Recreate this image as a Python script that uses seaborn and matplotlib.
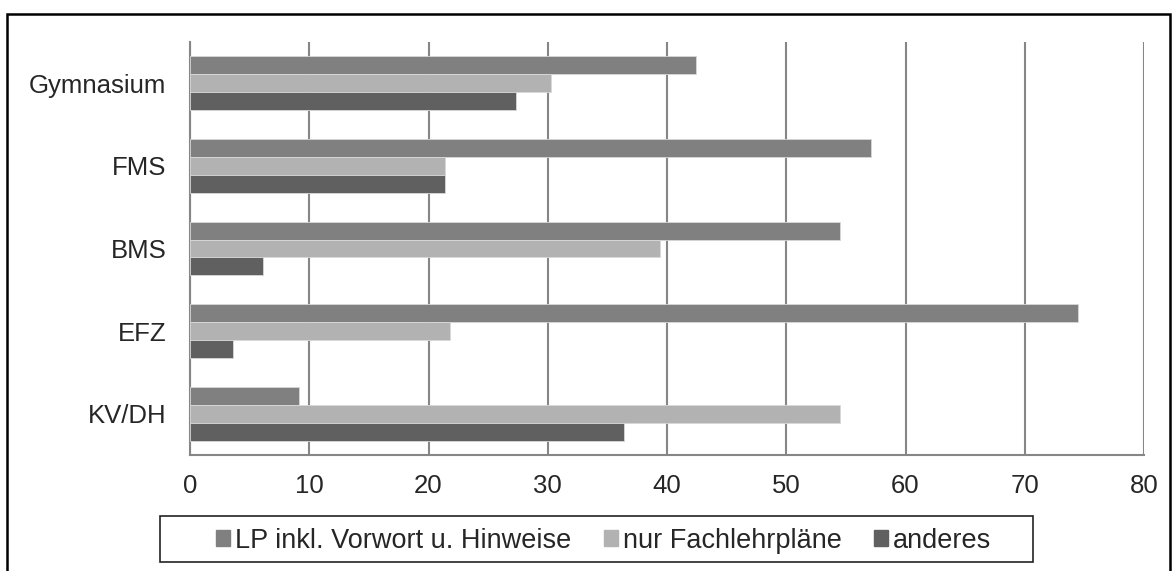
import pandas as pd
import matplotlib.pyplot as plt
import seaborn as sns
from matplotlib.patches import Rectangle

categories = ['Gymnasium', 'FMS', 'BMS', 'EFZ', 'KV/DH']
series = ['LP inkl. Vorwort u. Hinweise', 'nur Fachlehrpläne', 'anderes']
lp_inkl = [42.4, 57.1, 54.5, 74.5, 9.1]
nur_fach = [30.3, 21.4, 39.4, 21.8, 54.5]
anderes = [27.3, 21.4, 6.1, 3.6, 36.4]
colors = ['#808080', '#b2b2b2', '#606060']

df = pd.DataFrame({
    'Schule': categories * 3,
    'Serie': [series[0]] * 5 + [series[1]] * 5 + [series[2]] * 5,
    'Wert': lp_inkl + nur_fach + anderes,
})

sns.set_style('white')
plt.rcParams['font.family'] = ['Liberation Sans', 'DejaVu Sans']

fig = plt.figure(figsize=(11.76, 5.71), dpi=100)
ax = fig.add_axes([0.1616, 0.2032, 0.8112, 0.7232])

sns.barplot(data=df, y='Schule', x='Wert', hue='Serie', order=categories,
            hue_order=series, palette=colors, orient='h', width=0.65,
            edgecolor='#d8d8d8', linewidth=0.6, ax=ax, legend=False, zorder=3)

grid_c = '#868686'
ax.set_xlim(0, 80)
ax.set_ylim(4.5, -0.5)
ax.set_xticks(range(0, 90, 10))
# category separators as major ticks, labels on minor ticks
ax.set_yticks([-0.5, 0.5, 1.5, 2.5, 3.5, 4.5], minor=False)
ax.set_yticklabels([])
ax.set_yticks(range(5), minor=True)
ax.set_yticklabels(categories, minor=True)
ax.tick_params(axis='y', which='minor', length=0, pad=17, labelsize=18.5)
ax.tick_params(axis='y', which='major', length=8, width=1.5, color=grid_c, direction='out')
ax.tick_params(axis='x', length=8, width=1.5, color=grid_c, direction='out', pad=6, labelsize=18.5)
ax.xaxis.grid(True, color=grid_c, linewidth=1.5, zorder=0)
ax.set_axisbelow(True)
for s in ['top', 'right']:
    ax.spines[s].set_visible(False)
for s in ['left', 'bottom']:
    ax.spines[s].set_color(grid_c)
    ax.spines[s].set_linewidth(1.5)
ax.set_xlabel('')
ax.set_ylabel('')

handles = [Rectangle((0, 0), 1, 1, color=c) for c in colors]
fig.legend(handles, series, loc='center', bbox_to_anchor=(0.5136, 0.0534),
           ncol=3, fontsize=19.5, frameon=False,
           handlelength=0.5, handleheight=0.5, handletextpad=0.2,
           columnspacing=1.2, borderpad=0, borderaxespad=0)

# legend box
fig.patches.append(Rectangle((160 / 1176, 0.0158), 873 / 1176, 0.0805,
                             transform=fig.transFigure, fill=False,
                             edgecolor='#222222', linewidth=1.2))

# outer chart border
fig.patches.append(Rectangle((7 / 1176, -0.05), 1163 / 1176, 1.05 - 14 / 571,
                             transform=fig.transFigure, fill=False,
                             edgecolor='black', linewidth=1.8))

fig.savefig('out.png', dpi=100)
